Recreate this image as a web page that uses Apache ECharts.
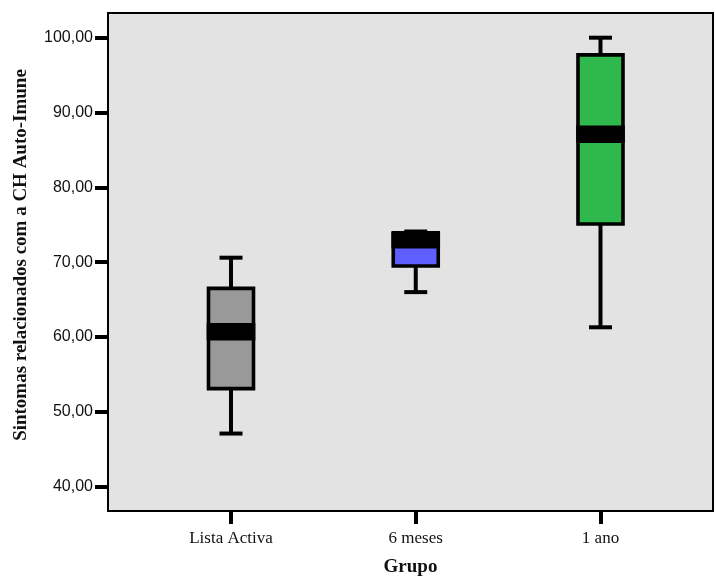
<!DOCTYPE html>
<html>
<head>
<meta charset="utf-8">
<script src="https://cdn.jsdelivr.net/npm/echarts@6/dist/echarts.min.js"></script>
<style>
html,body{margin:0;padding:0;background:#fff;}
#chart{width:716px;height:578px;}
</style>
</head>
<body>
<div id="chart"></div>
<script>
// ---- data ----
const categories = ['Lista Activa', '6 meses', '1 ano'];
const minValues = [47.1, 66.0, 61.3];
const q1Values = [53.1, 69.5, 75.1];
const medianValues = [60.7, 73.0, 87.1];
const q3Values = [66.5, 73.8, 97.7];
const maxValues = [70.6, 74.1, 100.0];
const yTickValues = [40, 50, 60, 70, 80, 90, 100];
const xTickValues = [0, 1, 2];

// ---- styles ----
const boxColors = ['#999999', '#5f5fff', '#2fb84b'];
const BOX_W = 45, BOX_LINE = 3.6, MED_H = 17.4, CAP_W = 23, WHISK_W = 4;

const seriesData = categories.map((c, i) => [i, minValues[i], q1Values[i], medianValues[i], q3Values[i], maxValues[i]]);

function renderItem(params, api) {
  const i = api.value(0);
  const pMin = api.coord([i, api.value(1)]);
  const pQ1 = api.coord([i, api.value(2)]);
  const pMed = api.coord([i, api.value(3)]);
  const pQ3 = api.coord([i, api.value(4)]);
  const pMax = api.coord([i, api.value(5)]);
  const cx = pMin[0];
  const black = '#000';
  const lineStyle = {stroke: black, lineWidth: WHISK_W};
  return {
    type: 'group',
    children: [
      {type: 'line', shape: {x1: cx, y1: pQ3[1], x2: cx, y2: pMax[1]}, style: lineStyle},
      {type: 'line', shape: {x1: cx, y1: pQ1[1], x2: cx, y2: pMin[1]}, style: lineStyle},
      {type: 'rect', shape: {x: cx - BOX_W / 2, y: pQ3[1], width: BOX_W, height: pQ1[1] - pQ3[1]},
        style: {fill: boxColors[params.dataIndex], stroke: black, lineWidth: BOX_LINE}},
      {type: 'rect', shape: {x: cx - (BOX_W + BOX_LINE) / 2, y: pMed[1] - MED_H / 2, width: BOX_W + BOX_LINE, height: MED_H},
        style: {fill: black}},
      {type: 'line', shape: {x1: cx - CAP_W / 2, y1: pMax[1], x2: cx + CAP_W / 2, y2: pMax[1]}, style: lineStyle},
      {type: 'line', shape: {x1: cx - CAP_W / 2, y1: pMin[1], x2: cx + CAP_W / 2, y2: pMin[1]}, style: lineStyle}
    ]
  };
}

const chart = echarts.init(document.getElementById('chart'), null, {renderer: 'canvas'});
chart.setOption({
  animation: false,
  backgroundColor: '#ffffff',
  grid: {
    show: true, left: 108, top: 13, width: 605, height: 498,
    outerBoundsMode: 'none', containLabel: false,
    backgroundColor: '#e3e3e3', borderColor: '#000', borderWidth: 2
  },
  xAxis: {
    type: 'value', min: -0.6658, max: 2.609,
    axisLine: {show: false, onZero: false},
    splitLine: {show: false},
    axisTick: {show: true, customValues: xTickValues, length: 13, lineStyle: {color: '#000', width: 4}},
    axisLabel: {
      customValues: xTickValues, margin: 19,
      formatter: v => categories[Math.round(v)],
      fontFamily: 'Liberation Serif', fontSize: 17, color: '#111'
    },
    name: 'Grupo', nameLocation: 'middle', nameGap: 47,
    nameTextStyle: {fontFamily: 'Liberation Serif', fontSize: 19, fontWeight: 'bold', color: '#111'}
  },
  yAxis: {
    type: 'value', min: 36.75, max: 103.3,
    axisLine: {show: false, onZero: false},
    splitLine: {show: false},
    axisTick: {show: true, customValues: yTickValues, length: 13, lineStyle: {color: '#000', width: 4}},
    axisLabel: {
      customValues: yTickValues, margin: 15,
      formatter: v => v.toFixed(2).replace('.', ','),
      fontFamily: 'Liberation Sans', fontSize: 16, color: '#111'
    },
    name: 'Sintomas relacionados com a CH Auto-Imune', nameLocation: 'middle', nameGap: 77,
    nameTextStyle: {fontFamily: 'Liberation Serif', fontSize: 19, fontWeight: 'bold', color: '#111', padding: [0, 0, 0, 14]}
  },
  series: [{
    type: 'custom',
    renderItem: renderItem,
    encode: {x: 0, y: [1, 2, 3, 4, 5]},
    data: seriesData,
    clip: false
  }]
});
</script>
</body>
</html>
